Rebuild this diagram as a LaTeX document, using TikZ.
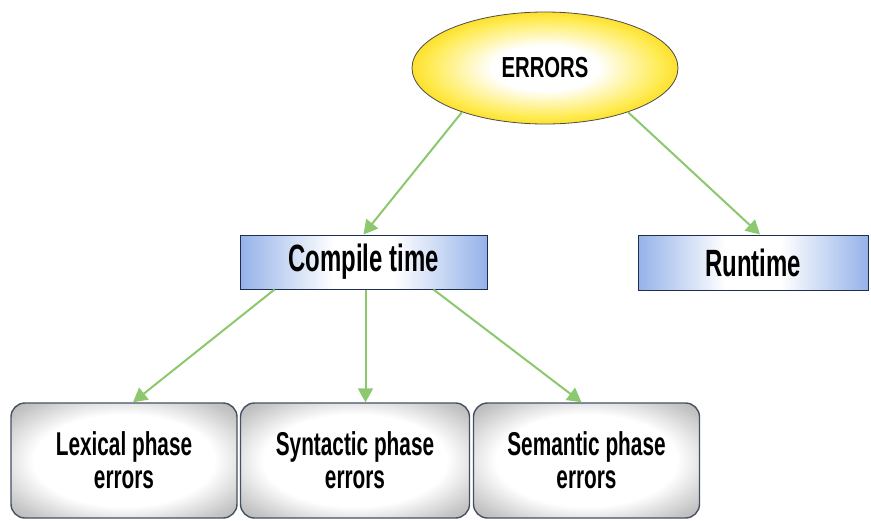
\documentclass[tikz,border=0pt]{standalone}
\usepackage{fontspec}
\setmainfont{Liberation Sans}[FakeStretch=0.63,UprightFont=* Bold]
\newfontfamily\errfont{Liberation Sans}[FakeStretch=0.70,UprightFont=* Bold]
\usetikzlibrary{shapes.geometric,arrows.meta}
\definecolor{arrgreen}{RGB}{140,200,110}
\definecolor{bdark}{RGB}{65,105,195}
\definecolor{bmid}{RGB}{110,150,225}
\definecolor{bedge}{RGB}{30,45,80}
\definecolor{gedge}{RGB}{70,80,100}
\definecolor{yel1}{RGB}{255,235,80}
\definecolor{yel2}{RGB}{250,210,0}
\definecolor{gold}{RGB}{210,165,0}
\pgfdeclarehorizontalshading{bluebar}{100bp}{color(0bp)=(bdark); color(18bp)=(bmid); color(44bp)=(white); color(56bp)=(white); color(82bp)=(bmid); color(100bp)=(bdark)}
\pgfdeclareradialshading{graybox}{\pgfpoint{0bp}{0bp}}{color(0bp)=(white); color(20bp)=(white); color(31bp)=(gray!45); color(40bp)=(gray!70); color(50bp)=(gray!80)}
\pgfdeclareradialshading{goldell}{\pgfpoint{0bp}{0bp}}{color(0bp)=(white); color(10bp)=(white); color(22bp)=(yel1); color(29bp)=(yel2); color(34bp)=(gold); color(50bp)=(gold)}
\tikzset{
  errell/.style={ellipse, shading=goldell, draw=black!70, line width=0.8pt,
    minimum width=266pt, minimum height=112pt, inner sep=0pt,
    font=\errfont\fontsize{29}{32}\selectfont},
  bluebox/.style={rectangle, shading=bluebar, draw=bedge, line width=1pt,
    inner sep=0pt, font=\fontsize{38}{40}\selectfont},
  graybx/.style={rectangle, rounded corners=14pt, shading=graybox, draw=gedge,
    line width=1.4pt, inner sep=0pt, minimum height=115pt, align=center,
    font=\fontsize{33}{33}\selectfont},
  conn/.style={draw=arrgreen, line width=2pt, -{Triangle[width=15pt,length=14pt]}}
}
\begin{document}
\begin{tikzpicture}[x=1pt,y=-1pt]
\useasboundingbox[fill=white] (0,0) rectangle (871,520);
\node[errell] (err) at (545,68) {ERRORS};
\node[bluebox, minimum width=247pt, minimum height=54pt] (ct) at (363.5,262) {Compile time};
\node[bluebox, minimum width=230pt, minimum height=55pt] (rt) at (753,262.5) {Runtime};
\node[graybx, minimum width=226pt] (lex) at (124,460.5) {Lexical phase\\errors};
\node[graybx, minimum width=229pt] (syn) at (355,460.5) {Syntactic phase\\errors};
\node[graybx, minimum width=226pt] (sem) at (586.5,460.5) {Semantic phase\\errors};
\draw[conn] (err.208) -- (ct.north);
\draw[conn] (err.332) -- ([xshift=7pt]rt.north);
\draw[conn] ([xshift=35pt]ct.south west) -- ([xshift=9pt]lex.north);
\draw[conn] ([xshift=2pt]ct.south) -- ([xshift=2pt]ct.south |- syn.north);
\draw[conn] ([xshift=-54pt]ct.south east) -- ([xshift=-5pt]sem.north);
\end{tikzpicture}
\end{document}
